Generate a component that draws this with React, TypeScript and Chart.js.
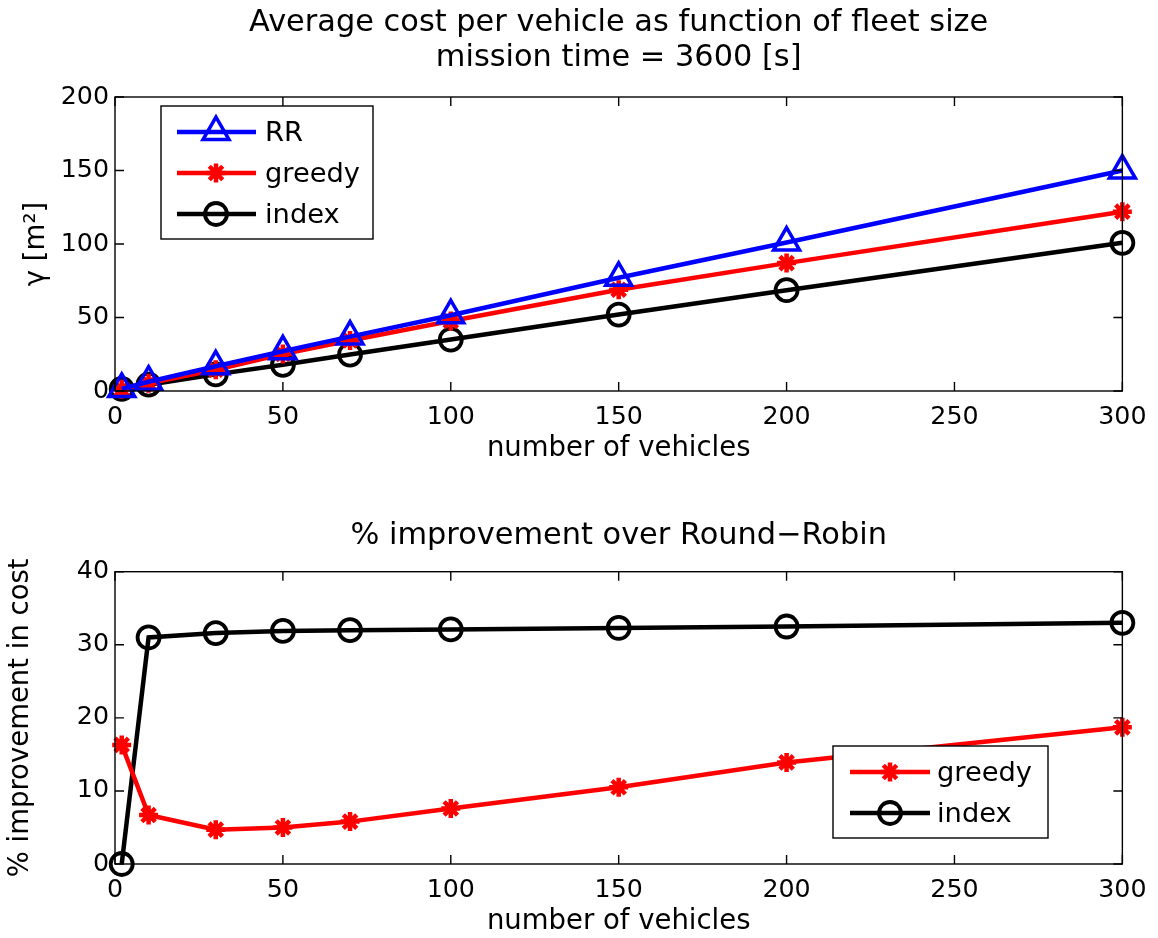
import React, { useEffect, useRef } from 'react';
import { Chart, registerables } from 'chart.js';
import { drawPoint } from 'chart.js/helpers';

Chart.register(...registerables);

const vehicles = [2, 10, 30, 50, 70, 100, 150, 200, 300];
const costRR = [1.4, 6.3, 16.8, 27, 37, 51.5, 77, 101, 150];
const costGreedy = [1.2, 5.2, 14.5, 25.2, 34.4, 47.6, 68.9, 87, 122];
const costIndex = [1.4, 4.3, 11.3, 17.8, 24.8, 35, 52, 68.6, 100.8];
const improvGreedy = [16.3, 6.7, 4.7, 5.0, 5.8, 7.6, 10.5, 13.9, 18.7];
const improvIndex = [0, 31.0, 31.6, 31.9, 32.0, 32.1, 32.3, 32.5, 33.0];
const xTicks = [0, 50, 100, 150, 200, 250, 300];
const topYTicks = [0, 50, 100, 150, 200];
const bottomYTicks = [0, 10, 20, 30, 40];

const FONT = '"DejaVu Sans", "Liberation Sans", Arial, sans-serif';
const FS_TICK = 25.3;
const FS_LABEL = 27.5;
const FS_TITLE = 30.4;
const FS_LEGEND = 27.3;
const BLUE = '#0000ff';
const RED = '#ff0000';
const BLACK = '#000000';
const CLEAR = 'rgba(0,0,0,0)';

type LegendItem = { label: string; color: string; pointStyle: string; radius: number; pbw: number };
type LegendCfg = {
  box: [number, number, number, number];
  rows: number[];
  lineX: [number, number];
  markerX: number;
  textX: number;
  items: LegendItem[];
};

function makeFramePlugin(legend: LegendCfg) {
  return {
    id: 'frameLegend',
    afterDatasetsDraw(chart: any) {
      const { ctx, chartArea: a, scales } = chart;
      ctx.save();
      ctx.strokeStyle = BLACK;
      ctx.lineWidth = 1.4;
      ctx.strokeRect(a.left, a.top, a.right - a.left, a.bottom - a.top);
      const L = 9;
      ctx.beginPath();
      scales.x.ticks.forEach((t: any) => {
        const px = scales.x.getPixelForValue(t.value);
        ctx.moveTo(px, a.bottom);
        ctx.lineTo(px, a.bottom - L);
        ctx.moveTo(px, a.top);
        ctx.lineTo(px, a.top + L);
      });
      scales.y.ticks.forEach((t: any) => {
        const py = scales.y.getPixelForValue(t.value);
        ctx.moveTo(a.left, py);
        ctx.lineTo(a.left + L, py);
        ctx.moveTo(a.right, py);
        ctx.lineTo(a.right - L, py);
      });
      ctx.stroke();

      const [bx1, by1, bx2, by2] = legend.box;
      ctx.fillStyle = '#ffffff';
      ctx.fillRect(bx1, by1, bx2 - bx1, by2 - by1);
      ctx.lineWidth = 1.4;
      ctx.strokeStyle = BLACK;
      ctx.strokeRect(bx1, by1, bx2 - bx1, by2 - by1);
      legend.items.forEach((it, i) => {
        const y = legend.rows[i];
        ctx.beginPath();
        ctx.strokeStyle = it.color;
        ctx.lineWidth = 4.5;
        ctx.moveTo(legend.lineX[0], y);
        ctx.lineTo(legend.lineX[1], y);
        ctx.stroke();
        ctx.strokeStyle = it.color;
        ctx.fillStyle = CLEAR;
        ctx.lineWidth = it.pbw;
        drawPoint(ctx, { pointStyle: it.pointStyle as any, radius: it.radius, rotation: 0, borderWidth: it.pbw }, legend.markerX, y);
        ctx.fillStyle = BLACK;
        ctx.font = `${FS_LEGEND}px ${FONT}`;
        ctx.textAlign = 'left';
        ctx.textBaseline = 'middle';
        ctx.fillText(it.label, legend.textX, y + 1.5);
      });
      ctx.restore();
    },
  };
}

function ds(label: string, xs: number[], ys: number[], color: string, pointStyle: string, radius: number, pbw: number) {
  return {
    label,
    data: xs.map((x, i) => ({ x, y: ys[i] })),
    borderColor: color,
    borderWidth: 4.5,
    pointStyle,
    pointRadius: radius,
    pointHoverRadius: radius,
    pointBorderWidth: pbw,
    pointBorderColor: color,
    pointBackgroundColor: CLEAR,
    tension: 0,
    clip: false as any,
  };
}

const RR_ITEM: LegendItem = { label: 'RR', color: BLUE, pointStyle: 'triangle', radius: 15, pbw: 3.5 };
const GR_ITEM: LegendItem = { label: 'greedy', color: RED, pointStyle: 'star', radius: 9.5, pbw: 4.5 };
const IX_ITEM: LegendItem = { label: 'index', color: BLACK, pointStyle: 'circle', radius: 11, pbw: 3.8 };

function makeOptions(p: {
  title: string[];
  titlePad: { top: number; bottom: number };
  yTitle: string;
  yTitlePad: number;
  xTitlePad: number;
  xHeight: number;
  yMax: number;
  yTicks: number[];
}) {
  return {
    responsive: false,
    animation: false as const,
    events: [] as any[],
    layout: { padding: { left: 0, right: 35, top: 0, bottom: 0 } },
    plugins: {
      legend: { display: false },
      tooltip: { enabled: false },
      title: {
        display: true,
        text: p.title,
        fullSize: false,
        color: BLACK,
        font: { family: FONT, size: FS_TITLE, weight: 'normal' as const, lineHeight: 35 / FS_TITLE },
        padding: p.titlePad,
      },
    },
    scales: {
      x: {
        type: 'linear' as const,
        min: 0,
        max: 300,
        afterBuildTicks: (s: any) => {
          s.ticks = xTicks.map((v) => ({ value: v }));
        },
        afterFit: (s: any) => {
          s.height = p.xHeight;
        },
        grid: { display: false, drawTicks: false },
        border: { display: false },
        ticks: { color: BLACK, padding: 11.5, font: { family: FONT, size: FS_TICK }, maxRotation: 0 },
        title: {
          display: true,
          text: 'number of vehicles',
          color: BLACK,
          font: { family: FONT, size: FS_LABEL, lineHeight: 1.2 },
          padding: { top: 0, bottom: p.xTitlePad },
        },
      },
      y: {
        type: 'linear' as const,
        min: 0,
        max: p.yMax,
        afterBuildTicks: (s: any) => {
          s.ticks = p.yTicks.map((v) => ({ value: v }));
        },
        afterFit: (s: any) => {
          s.width = 115;
        },
        grid: { display: false, drawTicks: false },
        border: { display: false },
        ticks: { color: BLACK, padding: 6, font: { family: FONT, size: FS_TICK } },
        title: {
          display: true,
          text: p.yTitle,
          color: BLACK,
          font: { family: FONT, size: FS_LABEL, lineHeight: 1.2 },
          padding: { top: p.yTitlePad, bottom: 0 },
        },
      },
    },
  };
}

export default function App() {
  const topRef = useRef<HTMLCanvasElement | null>(null);
  const botRef = useRef<HTMLCanvasElement | null>(null);

  useEffect(() => {
    const top = new Chart(topRef.current as HTMLCanvasElement, {
      type: 'line',
      data: {
        datasets: [
          ds('RR', vehicles, costRR, BLUE, 'triangle', 15, 3.5),
          ds('greedy', vehicles, costGreedy, RED, 'star', 9.5, 4.5),
          ds('index', vehicles, costIndex, BLACK, 'circle', 11, 3.8),
        ],
      },
      options: makeOptions({
        title: ['Average cost per vehicle as function of fleet size', 'mission time = 3600 [s]'],
        titlePad: { top: 5.3, bottom: 21.7 },
        yTitle: 'γ [m²]',
        yTitlePad: 20.5,
        xTitlePad: 4.7,
        xHeight: 79,
        yMax: 200,
        yTicks: topYTicks,
      }) as any,
      plugins: [
        makeFramePlugin({
          box: [161, 106, 373, 239],
          rows: [132, 173, 214],
          lineX: [177, 256],
          markerX: 216,
          textX: 265,
          items: [RR_ITEM, GR_ITEM, IX_ITEM],
        }),
      ],
    });
    const bot = new Chart(botRef.current as HTMLCanvasElement, {
      type: 'line',
      data: {
        datasets: [
          ds('greedy', vehicles, improvGreedy, RED, 'star', 9.5, 4.5),
          ds('index', vehicles, improvIndex, BLACK, 'circle', 11, 3.8),
        ],
      },
      options: makeOptions({
        title: ['% improvement over Round\u2212Robin'],
        titlePad: { top: 48.7, bottom: 18 },
        yTitle: '% improvement in cost',
        yTitlePad: 4,
        xTitlePad: 0,
        xHeight: 74,
        yMax: 40,
        yTicks: bottomYTicks,
      }) as any,
      plugins: [
        makeFramePlugin({
          box: [833, 276, 1048, 368],
          rows: [302, 343],
          lineX: [850, 930],
          markerX: 890,
          textX: 937,
          items: [GR_ITEM, IX_ITEM],
        }),
      ],
    });
    return () => {
      top.destroy();
      bot.destroy();
    };
  }, []);

  return (
    <div style={{ position: 'absolute', left: 0, top: 0, width: 1158, height: 938, background: '#ffffff' }}>
      <canvas ref={topRef} width={1158} height={470} style={{ display: 'block', width: 1158, height: 470 }} />
      <canvas ref={botRef} width={1158} height={468} style={{ display: 'block', width: 1158, height: 468 }} />
    </div>
  );
}
